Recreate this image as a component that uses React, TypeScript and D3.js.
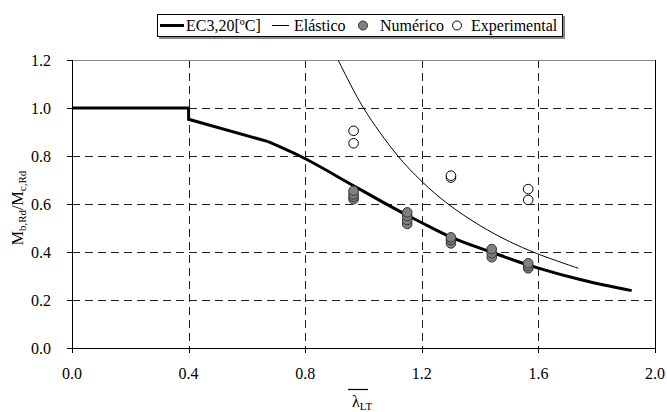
import React from 'react';
import * as d3 from 'd3';

// EC3 curve (plateau, jump at 0.4, then the curve)
const ec3Plateau: [number, number][] = [[0, 1.0], [0.4, 1.0], [0.4, 0.953], [0.673, 0.86]];
const ec3Curve: [number, number][] = [
  [0.673, 0.86], [0.782, 0.80], [0.966, 0.676], [1.06, 0.612], [1.15, 0.553],
  [1.2, 0.522], [1.3, 0.462], [1.44, 0.399], [1.565, 0.346], [1.6, 0.333], [1.75, 0.283], [1.92, 0.239],
];
const elastic: [number, number][] = [
  [0.913, 1.2], [1.0, 1.0], [1.116, 0.803], [1.2, 0.694], [1.29, 0.60],
  [1.4, 0.51], [1.5, 0.444], [1.594, 0.394], [1.737, 0.332],
];
const numerico: [number, number][] = [
  [0.966, 0.62], [0.966, 0.63], [0.966, 0.64], [0.966, 0.655],
  [1.15, 0.517], [1.15, 0.533], [1.15, 0.55], [1.15, 0.565],
  [1.30, 0.436], [1.30, 0.45], [1.30, 0.461],
  [1.44, 0.378], [1.44, 0.395], [1.44, 0.412],
  [1.565, 0.332], [1.565, 0.342], [1.565, 0.353],
];
const experimental: [number, number][] = [
  [0.966, 0.905], [0.966, 0.853], [1.30, 0.71], [1.30, 0.718], [1.565, 0.662], [1.565, 0.617],
];
const xTicks = [0, 0.4, 0.8, 1.2, 1.6, 2.0];
const yTicks = [0, 0.2, 0.4, 0.6, 0.8, 1.0, 1.2];

const W = 667;
const H = 412;
const font = "'Liberation Serif', 'DejaVu Serif', serif";
const txt = { fontFamily: font, fontSize: 16 };

export default function App() {
  const x = d3.scaleLinear().domain([0, 2]).range([72, 655]);
  const y = d3.scaleLinear().domain([0, 1.2]).range([348, 60]);

  const lin = d3.line<[number, number]>().x(d => x(d[0])).y(d => y(d[1]));
  const smooth = d3.line<[number, number]>().x(d => x(d[0])).y(d => y(d[1])).curve(d3.curveMonotoneX);
  const elasticLine = d3.line<[number, number]>().x(d => x(d[0])).y(d => y(d[1])).curve(d3.curveCatmullRom);

  const x0 = x(0), x1 = x(2), yb = y(0), yt = y(1.2);

  return (
    <svg width={W} height={H} style={{ position: 'absolute', left: 0, top: 0, background: '#fff' }}>
      <rect width={W} height={H} fill="#fff" />
      {/* grid */}
      {yTicks.filter(t => t > 0).map(t => (
        <line key={'gy' + t} x1={x0} x2={x1} y1={Math.round(y(t)) + 0.5} y2={Math.round(y(t)) + 0.5}
          stroke="#222" strokeDasharray="8,5" />
      ))}
      {xTicks.filter(t => t > 0 && t < 2).map(t => (
        <line key={'gx' + t} y1={yt} y2={yb} x1={Math.round(x(t)) + 0.5} x2={Math.round(x(t)) + 0.5}
          stroke="#222" strokeDasharray="8,5" />
      ))}
      {/* frame */}
      <line x1={x0} x2={x1} y1={yt + 0.5} y2={yt + 0.5} stroke="#888" strokeWidth={1} />
      <line x1={x1 + 0.5} x2={x1 + 0.5} y1={yt} y2={yb + 5} stroke="#000" />
      <line x1={x0 + 0.5} x2={x0 + 0.5} y1={yt} y2={yb} stroke="#000" />
      <line x1={x0} x2={x1} y1={yb + 0.5} y2={yb + 0.5} stroke="#000" />
      {/* ticks */}
      {yTicks.map(t => (
        <g key={'ty' + t}>
          <line x1={x0 - 5} x2={x0} y1={Math.round(y(t)) + 0.5} y2={Math.round(y(t)) + 0.5} stroke="#000" />
          <text x={51} y={y(t) + 5.5} textAnchor="end" style={txt}>{t.toFixed(1)}</text>
        </g>
      ))}
      {xTicks.map(t => (
        <g key={'tx' + t}>
          <line y1={yb} y2={yb + 5} x1={Math.round(x(t)) + 0.5} x2={Math.round(x(t)) + 0.5} stroke="#000" />
          <text x={x(t)} y={379} textAnchor="middle" style={txt}>{t.toFixed(1)}</text>
        </g>
      ))}
      {/* curves */}
      <path d={elasticLine(elastic) || ''} fill="none" stroke="#000" strokeWidth={1} />
      <path d={lin(ec3Plateau) || ''} fill="none" stroke="#000" strokeWidth={3} strokeLinejoin="miter" />
      <path d={smooth(ec3Curve) || ''} fill="none" stroke="#000" strokeWidth={3} />
      {/* points */}
      {numerico.map((d, i) => (
        <circle key={'n' + i} cx={x(d[0])} cy={y(d[1])} r={4.8} fill="#808080" stroke="#333" strokeWidth={1} />
      ))}
      {experimental.map((d, i) => (
        <circle key={'e' + i} cx={x(d[0])} cy={y(d[1])} r={4.8} fill="#fff" stroke="#000" strokeWidth={1} />
      ))}
      {/* axis titles */}
      <text transform="translate(23,208) rotate(-90)" textAnchor="middle" style={txt}>
        M<tspan fontSize={11} dy={3}>b,Rd</tspan><tspan dy={-3}>/M</tspan><tspan fontSize={11} dy={3}>c,Rd</tspan>
      </text>
      <line x1={348} x2={368} y1={389.5} y2={389.5} stroke="#000" strokeWidth={1.2} />
      <text x={352} y={407} style={txt}>
        λ<tspan fontSize={11} dy={3}>LT</tspan>
      </text>
      {/* legend */}
      <rect x={159} y={16} width={406} height={23} fill="#888" />
      <rect x={157.5} y={14.5} width={405} height={22} fill="#fff" stroke="#000" />
      <line x1={160} x2={184} y1={25.5} y2={25.5} stroke="#000" strokeWidth={3} />
      <text x={186} y={31} style={txt}>EC3,20[ºC]</text>
      <line x1={272} x2={289} y1={25.5} y2={25.5} stroke="#000" strokeWidth={1} />
      <text x={294} y={31} style={txt}>Elástico</text>
      <circle cx={363} cy={25.5} r={4.5} fill="#808080" stroke="#333" />
      <text x={380} y={31} style={txt}>Numérico</text>
      <circle cx={457} cy={25.5} r={4.5} fill="#fff" stroke="#000" />
      <text x={471} y={31} style={txt}>Experimental</text>
    </svg>
  );
}
